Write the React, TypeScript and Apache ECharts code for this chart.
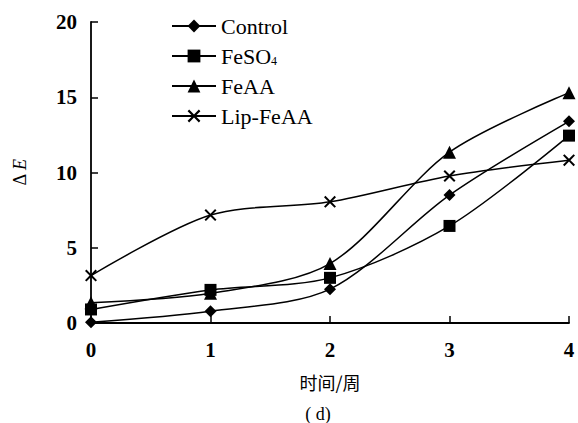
import React, { useEffect, useRef } from "react";
import * as echarts from "echarts";

const weeks = [0, 1, 2, 3, 4];
const control = [0.05, 0.78, 2.25, 8.5, 13.4];
const feso4 = [0.9, 2.2, 3.0, 6.45, 12.45];
const feaa = [1.35, 1.97, 3.95, 11.35, 15.3];
const lipFeaa = [3.15, 7.17, 8.05, 9.77, 10.82];
const seriesNames = ["Control", "FeSO4", "FeAA", "Lip-FeAA"];
const yTicks = { min: 0, max: 20, interval: 5 };

const crossPath =
  "path://M0,1.2L1.2,0L5,3.8L8.8,0L10,1.2L6.2,5L10,8.8L8.8,10L5,6.2L1.2,10L0,8.8L3.8,5Z";

const FONT = "Liberation Serif";

export default function App() {
  const ref = useRef<HTMLDivElement>(null);
  useEffect(() => {
    if (!ref.current) return;
    const chart = echarts.init(ref.current, undefined, { renderer: "svg" });
    const values = [control, feso4, feaa, lipFeaa];
    const symbols = ["diamond", "rect", "triangle", crossPath];
    const sizes = [12, 12, 13, 12];
    chart.setOption({
      animation: false,
      backgroundColor: "#fff",
      textStyle: { fontFamily: FONT },
      title: {
        text: "( d)",
        left: 313,
        top: 400,
        textAlign: "center",
        textStyle: { fontFamily: FONT, fontSize: 18, fontWeight: "normal", color: "#000" },
      },
      grid: { left: 91, right: 9, top: 22, bottom: 100 },
      legend: {
        orient: "vertical",
        left: 166,
        top: 10,
        itemWidth: 44,
        itemHeight: 16,
        itemGap: 8,
        data: seriesNames,
        formatter: (name: string) =>
          name === "FeSO4" ? "{a|FeSO}{s|4}" : "{a|" + name + "}",
        textStyle: {
          fontFamily: FONT,
          fontSize: 22,
          color: "#000",
          rich: {
            a: { fontFamily: FONT, fontSize: 22, color: "#000" },
            s: { fontFamily: FONT, fontSize: 12, color: "#000", verticalAlign: "bottom", padding: [10, 0, 0, 0] },
          },
        },
      },
      xAxis: {
        type: "value",
        min: 0,
        max: 4,
        interval: 1,
        name: "时间/周",
        nameLocation: "middle",
        nameGap: 50,
        nameTextStyle: { fontFamily: "Noto Sans CJK SC", fontSize: 18, color: "#000" },
        axisLine: { lineStyle: { color: "#000", width: 1.8 } },
        axisTick: { inside: true, length: 7, lineStyle: { color: "#000", width: 1.5 } },
        axisLabel: { margin: 16, fontFamily: FONT, fontSize: 21, fontWeight: "bold", color: "#000" },
        splitLine: { show: false },
      },
      yAxis: {
        type: "value",
        min: yTicks.min,
        max: yTicks.max,
        interval: yTicks.interval,
        name: "{d|Δ }{e|E}",
        nameLocation: "middle",
        nameRotate: 90,
        nameGap: 62,
        nameTextStyle: {
          fontFamily: FONT,
          rich: {
            d: { fontFamily: FONT, fontSize: 18, color: "#000" },
            e: { fontFamily: FONT, fontSize: 18, fontStyle: "italic", color: "#000" },
          },
        },
        axisLine: { show: true, lineStyle: { color: "#000", width: 1.8 } },
        axisTick: { show: true, inside: true, length: 7, lineStyle: { color: "#000", width: 1.5 } },
        axisLabel: { margin: 14, fontFamily: FONT, fontSize: 21, fontWeight: "bold", color: "#000" },
        splitLine: { show: false },
      },
      series: seriesNames.map((name, i) => ({
        name,
        type: "line",
        smooth: 0.3,
        data: weeks.map((w, j) => [w, values[i][j]]),
        symbol: symbols[i],
        symbolSize: sizes[i],
        showSymbol: true,
        clip: false,
        lineStyle: { color: "#000", width: 1.5 },
        itemStyle: { color: "#000" },
      })),
    });
    return () => chart.dispose();
  }, []);
  return <div ref={ref} style={{ width: 578, height: 423, position: "absolute", left: 0, top: 0 }} />;
}
